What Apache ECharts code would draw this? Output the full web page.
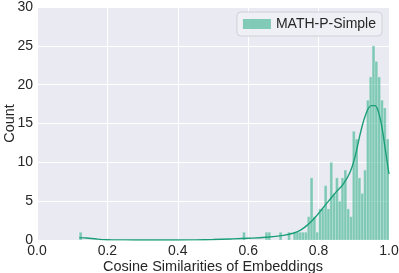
<!DOCTYPE html>
<html><head><meta charset="utf-8">
<script src="https://cdn.jsdelivr.net/npm/echarts@6/dist/echarts.min.js"></script>
<style>html,body{margin:0;padding:0;background:#fff}#c{width:399px;height:273px}</style>
</head><body><div id="c"></div>
<script>
// Histogram bins
const binStart = 0.12;
const binWidth = 0.008;
const counts = [
 1,0,0,0,0,0,0,0,0,0, 0,0,0,0,0,0,0,0,0,0,
 0,0,0,0,0,0,0,0,0,0, 0,0,0,0,0,0,0,0,0,0,
 0,0,0,0,0,0,0,0,0,0, 0,0,0,0,0,0,0,0,1,0,
 0,0,0,0,0,0,1,1,0,0, 0,1,0,0,1,0,1,1,1,1,
 1,3,8,3,1,4,4,7,4,10, 6,8,5,8,9,4,3,14,13,8,
 6,9,18,21,25,23,21,18,17,13
];
// KDE curve (x, count)
const kdeX = [0.12,0.14,0.17,0.2,0.25,0.3,0.4,0.45,0.5,0.55,0.6,0.65,0.7,0.73,0.75,0.77,0.79,0.81,0.83,0.85,0.87,0.89,0.905,0.92,0.935,0.95,0.96,0.97,0.98,0.99,1.0];
const kdeY = [0.3,0.25,0.12,0.04,0.01,0.0,0.0,0.02,0.06,0.13,0.22,0.35,0.6,0.9,1.3,2.0,2.9,4.0,5.1,6.2,7.2,8.8,11,14,16.3,17.3,17.3,16.5,14.5,11.5,8.5];
const xTicks = [0.0,0.2,0.4,0.6,0.8,1.0];
const yTicks = [0,5,10,15,20,25,30];
const seriesName = 'MATH-P-Simple';

const barColor = 'rgba(27,168,124,0.52)';
const lineColor = '#1b9e77';
const font = 'Liberation Sans, Arial, sans-serif';

const histData = counts.map((c,i)=>[binStart+i*binWidth, binStart+(i+1)*binWidth, c]).filter(d=>d[2]>0);
const kdeData = kdeX.map((x,i)=>[x,kdeY[i]]);

const chart = echarts.init(document.getElementById('c'));
chart.setOption({
  animation:false,
  backgroundColor:'#fff',
  grid:{left:37,right:10,top:7,bottom:33,backgroundColor:'#EAEAF2',show:true,borderWidth:0,containLabel:false,outerBoundsMode:'none'},
  legend:{
    right:17,top:12,
    data:[{name:seriesName,icon:'rect'}],
    itemWidth:28,itemHeight:10,itemGap:7,
    padding:[5,6,5,6],
    backgroundColor:'rgba(240,240,246,0.9)',
    borderColor:'#d0d0d8',borderWidth:1,borderRadius:4,
    textStyle:{fontFamily:font,fontSize:14,color:'#262626'}
  },
  xAxis:{
    type:'value',min:0,max:1,interval:0.2,
    name:'Cosine Similarities of Embeddings',nameLocation:'middle',nameGap:19,nameMoveOverlap:false,
    nameTextStyle:{fontFamily:font,fontSize:14.5,color:'#262626'},
    axisLine:{show:false},axisTick:{show:false},
    axisLabel:{fontFamily:font,fontSize:14,color:'#262626',margin:4,formatter:v=>v.toFixed(1)},
    splitLine:{show:true,lineStyle:{color:'#fff',width:1}}
  },
  yAxis:{
    type:'value',min:0,max:30,interval:5,
    name:'Count',nameLocation:'middle',nameGap:20,nameMoveOverlap:false,
    nameTextStyle:{fontFamily:font,fontSize:14.5,color:'#262626'},
    axisLine:{show:false},axisTick:{show:false},
    axisLabel:{fontFamily:font,fontSize:14,color:'#262626',margin:4},
    splitLine:{show:true,lineStyle:{color:'#fff',width:1}}
  },
  series:[
    {
      name:seriesName,type:'custom',
      itemStyle:{color:barColor},
      renderItem:(params,api)=>{
        const p0 = api.coord([api.value(0),0]);
        const p1 = api.coord([api.value(1),api.value(2)]);
        return {type:'rect',shape:{x:p0[0],y:p1[1],width:p1[0]-p0[0],height:p0[1]-p1[1]},
          style:{fill:barColor,stroke:'rgba(255,255,255,0.45)',lineWidth:0.5}};
      },
      encode:{x:[0,1],y:2},
      data:histData
    },
    {
      name:'kde',type:'line',smooth:0.4,showSymbol:false,
      lineStyle:{color:lineColor,width:1.4},
      data:kdeData
    }
  ]
});
</script></body></html>
